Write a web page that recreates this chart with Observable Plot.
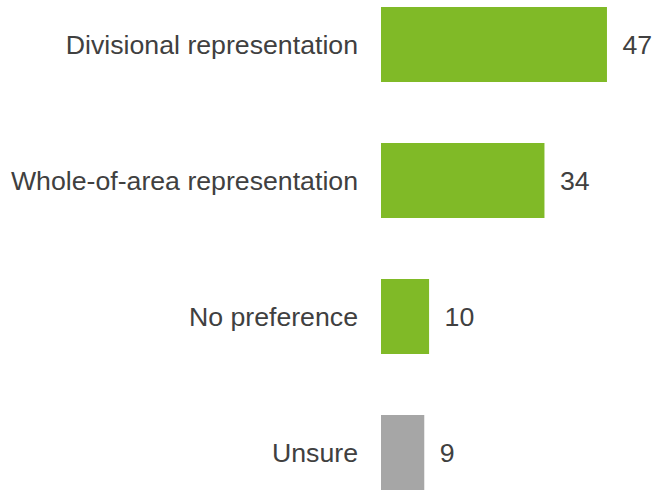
<!DOCTYPE html>
<html>
<head>
<meta charset="utf-8">
<script src="https://cdn.jsdelivr.net/npm/d3@7"></script>
<script src="https://cdn.jsdelivr.net/npm/@observablehq/plot@0.6"></script>
<style>
  html, body { margin: 0; padding: 0; background: #fff; }
  #chart svg { display: block; }
</style>
</head>
<body>
<div id="chart"></div>
<script>
const categories = ["Divisional representation", "Whole-of-area representation", "No preference", "Unsure"];
const values = [47, 34, 10, 9];
const colors = ["#80BA27", "#80BA27", "#80BA27", "#A6A6A6"];

const data = categories.map((c, i) => ({category: c, value: values[i], color: colors[i]}));

const chart = Plot.plot({
  width: 656,
  height: 492,
  marginLeft: 381,
  marginRight: 0,
  marginTop: 5,
  marginBottom: 0,
  style: {fontFamily: "'Liberation Sans', Arial, sans-serif", fontSize: "26.7px", color: "#404040", background: "#fff"},
  x: {domain: [0, 57.2], axis: null},
  y: {domain: categories, paddingInner: 0.445, paddingOuter: 0, label: null},
  marks: [
    Plot.barX(data, {x: "value", y: "category", fill: "color"}),
    Plot.text(data, {x: "value", y: "category", text: d => String(d.value), textAnchor: "start", dx: 15, fontSize: 26.7, fill: "#404040"}),
    Plot.axisY({tickSize: 0, tickPadding: 23.5, fontSize: 26.7, label: null, fill: "#404040"})
  ]
});
document.getElementById("chart").appendChild(chart);
</script>
</body>
</html>
